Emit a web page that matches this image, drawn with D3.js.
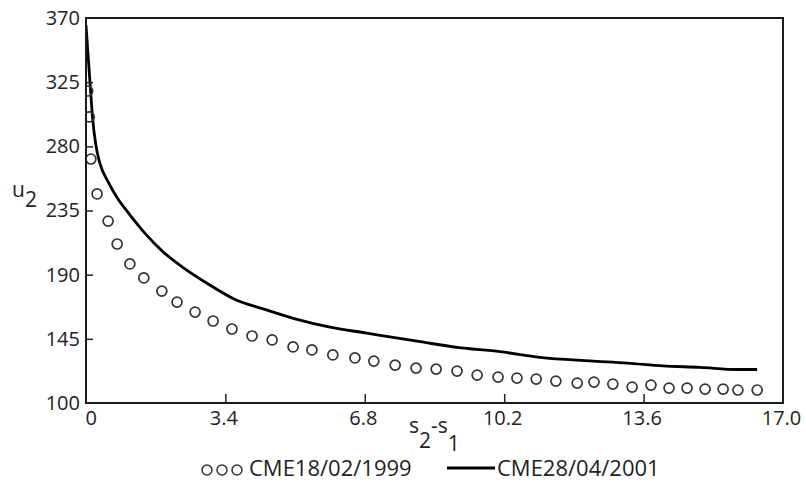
<!DOCTYPE html>
<html>
<head>
<meta charset="utf-8">
<script src="https://cdn.jsdelivr.net/npm/d3@7"></script>
<style>
  html, body { margin: 0; padding: 0; background: #fff; }
  svg { display: block; font-family: "Open Sans", "Noto Sans", sans-serif; }
  .tick text { fill: #222; }
</style>
</head>
<body>
<svg id="chart" width="806" height="483"></svg>
<script>
// Axis ticks
const xTickValues = [0, 3.4, 6.8, 10.2, 13.6, 17.0];
const xTickLabels = ["0", "3.4", "6.8", "10.2", "13.6", "17.0"];
const yTickValues = [100, 145, 190, 235, 280, 325, 370];

// Series names
const seriesNames = ["CME18/02/1999", "CME28/04/2001"];

// CME 18/02/1999 (open circles)
const cme1999S = [0.04, 0.08, 0.12, 0.27, 0.54, 0.76, 1.07, 1.41, 1.85, 2.22,
  2.66, 3.10, 3.56, 4.05, 4.54, 5.05, 5.51, 6.02, 6.56, 7.02,
  7.54, 8.05, 8.54, 9.05, 9.54, 10.05, 10.51, 10.98, 11.46, 11.98,
  12.39, 12.85, 13.32, 13.78, 14.22, 14.66, 15.10, 15.54, 15.90, 16.37];
const cme1999U = [318.8, 300.6, 271.1, 246.6, 227.6, 211.5, 197.5, 187.7, 178.5, 170.8,
  163.8, 157.5, 151.9, 147.0, 144.2, 139.3, 137.2, 133.7, 131.6, 129.4,
  126.6, 124.5, 123.8, 122.4, 119.6, 118.2, 117.5, 116.8, 115.4, 114.0,
  114.7, 113.3, 111.2, 112.6, 110.5, 110.5, 109.8, 109.8, 109.1, 109.1];

// CME 28/04/2001 (solid line)
const cme2001S = [0, 0.05, 0.10, 0.16, 0.24, 0.34, 0.54, 0.78, 1.07, 1.44,
  1.88, 2.37, 2.95, 3.61, 4.32, 5.10, 5.98, 6.85, 7.49, 8.15,
  9.05, 10.10, 11.07, 12.29, 13.20, 14.07, 14.98, 15.88, 16.37];
const cme2001U = [365, 344, 324, 300, 281, 268, 255, 243, 232, 219,
  206, 195, 184, 173, 166, 159, 153, 149, 146, 143,
  139, 136, 132, 129.5, 128, 126, 125, 123.5, 123.5];

const svg = d3.select("#chart");
const margin = { left: 86, top: 18, right: 23, bottom: 80 };
const W = 806, H = 483;
const x0 = margin.left, x1 = W - margin.right;
const y0 = H - margin.bottom, y1 = margin.top;

const x = d3.scaleLinear().domain([0, 17]).range([x0, x1]);
const y = d3.scaleLinear().domain([100, 370]).range([y0, y1]);

// clip marks to the plotting area
svg.append("defs").append("clipPath").attr("id", "plot-clip")
  .append("rect").attr("x", x0).attr("y", y1).attr("width", x1 - x0).attr("height", y0 - y1);

const lineData = cme2001S.map((s, i) => [s, cme2001U[i]]);
const dotData = cme1999S.map((s, i) => [s, cme1999U[i]]);

const marks = svg.append("g").attr("clip-path", "url(#plot-clip)");

marks.append("path")
  .datum(lineData)
  .attr("fill", "none")
  .attr("stroke", "#000")
  .attr("stroke-width", 2.8)
  .attr("stroke-linejoin", "round")
  .attr("d", d3.line().x(d => x(d[0])).y(d => y(d[1])).curve(d3.curveMonotoneX));

marks.selectAll("circle.dot")
  .data(dotData)
  .join("circle")
  .attr("class", "dot")
  .attr("cx", d => x(d[0]))
  .attr("cy", d => y(d[1]))
  .attr("r", 5)
  .attr("fill", "none")
  .attr("stroke", "#333")
  .attr("stroke-width", 1.7);

// axes with inward ticks
const yAxis = d3.axisLeft(y).tickValues(yTickValues).tickFormat(d3.format("d"))
  .tickSizeInner(-7).tickSizeOuter(0).tickPadding(6);
const gy = svg.append("g").attr("transform", `translate(${x0},0)`).call(yAxis);
gy.select(".domain").remove();
gy.selectAll(".tick line").attr("stroke", "#222").attr("stroke-width", 1.5)
  .filter(d => d === 100 || d === 370).remove();
gy.selectAll(".tick text").attr("font-size", 20).attr("font-family", "Open Sans");

const xAxis = d3.axisBottom(x).tickValues(xTickValues)
  .tickFormat((d, i) => xTickLabels[i])
  .tickSizeInner(-9).tickSizeOuter(0).tickPadding(8);
const gx = svg.append("g").attr("transform", `translate(0,${y0})`).call(xAxis);
gx.select(".domain").remove();
gx.selectAll(".tick line").attr("stroke", "#222").attr("stroke-width", 1.5)
  .filter(d => d === 0 || d === 17).remove();
gx.selectAll(".tick text").attr("font-size", 20).attr("font-family", "Open Sans")
  .attr("dx", -2);
gx.selectAll(".tick text").filter(d => d === 0).attr("text-anchor", "start").attr("dx", -1);

// frame
svg.append("rect")
  .attr("x", x0).attr("y", y1).attr("width", x1 - x0).attr("height", y0 - y1)
  .attr("fill", "none").attr("stroke", "#1a1a1a").attr("stroke-width", 2);

// axis titles
const yTitle = svg.append("text").attr("x", 12).attr("y", 197)
  .attr("font-size", 21).attr("fill", "#222");
yTitle.append("tspan").text("u");
yTitle.append("tspan").attr("dy", 10).text("2");

const xTitle = svg.append("text").attr("x", 409).attr("y", 433)
  .attr("font-size", 21).attr("fill", "#222");
xTitle.append("tspan").text("s");
xTitle.append("tspan").attr("dy", 15).text("2");
xTitle.append("tspan").attr("dy", -15).text("-s");
xTitle.append("tspan").attr("dy", 18).text("1");

// legend
const legend = svg.append("g");
[207, 222, 237].forEach(cx => {
  legend.append("circle").attr("cx", cx).attr("cy", 470).attr("r", 5)
    .attr("fill", "none").attr("stroke", "#333").attr("stroke-width", 1.5);
});
legend.append("text").attr("x", 249).attr("y", 476).attr("font-size", 22)
  .attr("fill", "#222").text(seriesNames[0]);
legend.append("line").attr("x1", 447).attr("x2", 495).attr("y1", 468).attr("y2", 468)
  .attr("stroke", "#000").attr("stroke-width", 2.8);
legend.append("text").attr("x", 497).attr("y", 476).attr("font-size", 22)
  .attr("fill", "#222").text(seriesNames[1]);
</script>
</body>
</html>
